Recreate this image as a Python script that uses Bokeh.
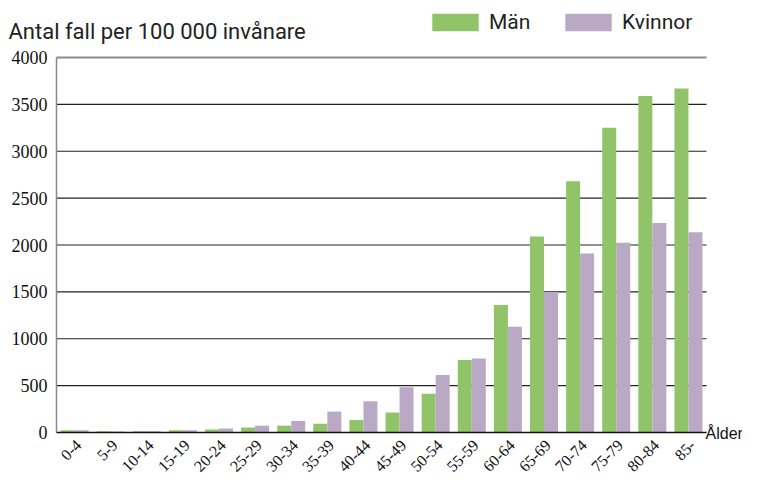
from bokeh.plotting import figure
from bokeh.models import ColumnDataSource, Legend, LegendItem, Label, FactorRange, Range1d
from bokeh.transform import dodge
from bokeh.embed import file_html
from bokeh.resources import INLINE
import math

ages = ["0-4", "5-9", "10-14", "15-19", "20-24", "25-29", "30-34", "35-39", "40-44",
        "45-49", "50-54", "55-59", "60-64", "65-69", "70-74", "75-79", "80-84", "85-"]
man = [23, 13, 13, 23, 33, 53, 73, 93, 133, 213, 413, 773, 1360, 2090, 2680, 3250, 3590, 3670]
kvinnor = [23, 10, 13, 23, 43, 73, 123, 223, 333, 483, 613, 790, 1127, 1500, 1910, 2025, 2235, 2135]
yticks = [0, 500, 1000, 1500, 2000, 2500, 3000, 3500, 4000]
ytick_labels = [str(t) for t in yticks]

GREEN = "#91c468"
PURPLE = "#baa9c4"
FONT = "Liberation Sans"
TFONT = "Roboto"

# layout (pixels)
W, H = 742, 478
LEFT_PX, RIGHT_PX = 56, 36
TOP_PX, BOTTOM_PX = 57, 46

n = len(ages)
ymax = yticks[-1]
ppu = (H - TOP_PX - BOTTOM_PX) / ymax
fw = (W - LEFT_PX - RIGHT_PX) / n            # pixels per factor
pad = (LEFT_PX + RIGHT_PX) / 2 / fw          # symmetric factor padding
shift = (LEFT_PX - RIGHT_PX) / 2 / fw        # shift to make it asymmetric

x_range = FactorRange(*ages, range_padding=pad, range_padding_units="absolute")
y_range = Range1d(-BOTTOM_PX / ppu, ymax + TOP_PX / ppu)

p = figure(x_range=x_range, y_range=y_range, width=W, height=H,
           output_backend="svg", toolbar_location=None,
           x_axis_location=None, y_axis_location=None,
           min_border=0, min_border_left=0, min_border_right=0,
           min_border_top=0, min_border_bottom=0)
p.outline_line_color = None
p.xgrid.visible = False
p.ygrid.visible = False

src = ColumnDataSource(dict(age=ages, man=man, kvinnor=kvinnor, base=[0] * n))
ng = len(yticks) - 2
grid = ColumnDataSource(dict(y=yticks[1:-1], x0=[shift] * ng, x1=[n + shift] * ng))
ticks = ColumnDataSource(dict(y=yticks, x=[shift] * len(yticks), label=ytick_labels))

# gridlines (under bars)
p.segment(x0="x0", x1="x1", y0="y", y1="y", source=grid, line_color="#222222", line_width=1.2)

bw = 0.388
r1 = p.vbar(x=dodge("age", shift - bw / 2, range=p.x_range), top="man", width=bw, source=src,
            fill_color=GREEN, line_color=None)
r2 = p.vbar(x=dodge("age", shift + bw / 2, range=p.x_range), top="kvinnor", width=bw, source=src,
            fill_color=PURPLE, line_color=None)

# frame lines
p.segment(x0=[shift], x1=[n + shift], y0=[yticks[-1]], y1=[yticks[-1]], line_color="#8a8a8a", line_width=2)
p.segment(x0=[shift], x1=[shift], y0=[yticks[0]], y1=[yticks[-1]], line_color="#8a8a8a", line_width=1.5)
p.segment(x0=[shift], x1=[n + shift], y0=[yticks[0]], y1=[yticks[0]], line_color="#111111", line_width=1.6)

# y tick labels
p.text(x="x", y="y", text="label", source=ticks, x_offset=-9, text_align="right",
       text_baseline="middle", text_font=FONT, text_font_size="18px", text_color="#111111")

# x tick labels (rotated)
p.text(x=dodge("age", shift, range=p.x_range), y="base", text="age", source=src,
       angle=math.pi / 4, x_offset=4, y_offset=10,
       text_align="right", text_baseline="middle", text_font=FONT, text_font_size="16px",
       text_color="#111111")

lg_common = dict(glyph_width=58, glyph_height=22, label_standoff=5, padding=0, margin=0,
                 border_line_color=None, background_fill_alpha=0, label_height=22,
                 label_text_font=TFONT, label_text_font_size="21px", label_text_color="#222222")
p.add_layout(Legend(items=[LegendItem(label="Män", renderers=[r1])], location=(426, 444), **lg_common))
p.add_layout(Legend(items=[LegendItem(label="Kvinnor", renderers=[r2])], location=(559, 444), **lg_common))

p.add_layout(Label(x=8, y=H - 31, x_units="screen", y_units="screen",
                   text="Antal fall per 100 000 invånare", text_font=TFONT,
                   text_font_size="22px", text_color="#222222", text_baseline="alphabetic"))
p.add_layout(Label(x=705, y=BOTTOM_PX - 1, x_units="screen", y_units="screen",
                   text="Ålder", text_font=FONT,
                   text_font_size="16px", text_color="#111111", text_baseline="alphabetic"))

open("out.html", "w").write(file_html(p, INLINE))
